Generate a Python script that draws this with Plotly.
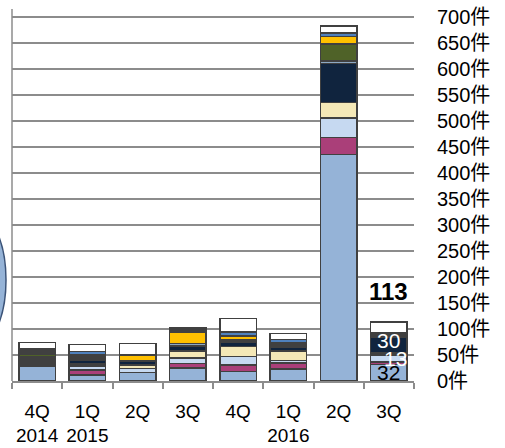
import plotly.graph_objects as go

# Quarter labels (two-line ticks: quarter / year)
quarters = ["4Q", "1Q", "2Q", "3Q", "4Q", "1Q", "2Q", "3Q"]
years = ["2014", "2015", "", "", "", "2016", "", ""]

# Stacked counts per quarter, bottom to top
light_blue = [28, 12, 16, 25, 18, 23, 436, 32]
magenta    = [0, 9, 0, 9, 13, 12, 32, 5]
pale_blue  = [0, 8, 8, 10, 16, 4, 38, 13]
cream      = [0, 0, 7, 14, 19, 19, 30, 4]
dark_gray1 = [14, 5, 0, 0, 0, 0, 0, 0]
navy       = [0, 6, 7, 9, 9, 6, 75, 30]
grey_blue  = [4, 0, 0, 5, 4, 3, 4, 0]
olive      = [6, 0, 0, 0, 0, 0, 33, 0]
yellow     = [0, 0, 12, 22, 8, 0, 15, 0]
dark_gray2 = [10, 11, 1, 8, 0, 7, 0, 9]
blue       = [0, 6, 0, 0, 7, 6, 6, 0]
white      = [12, 13, 21, 0, 26, 11, 14, 20]

y_ticks = list(range(0, 701, 50))
y_labels = [f"{v}件" for v in y_ticks]

series = [
    (light_blue, "#95B3D7"),
    (magenta, "#AA3F79"),
    (pale_blue, "#C6D9F1"),
    (cream, "#F4E8B7"),
    (dark_gray1, "#404040"),
    (navy, "#10243E"),
    (grey_blue, "#8DA9C4"),
    (olive, "#4F6228"),
    (yellow, "#FFC000"),
    (dark_gray2, "#404040"),
    (blue, "#4F81BD"),
    (white, "#FFFFFF"),
]

FONT = "Liberation Sans, Noto Sans CJK JP, sans-serif"
GRID = "#8c8c8c"
x = list(range(len(quarters)))

fig = go.Figure()
for vals, col in series:
    fig.add_trace(go.Bar(
        x=x, y=vals,
        marker=dict(color=col, line=dict(color="#404040", width=1.5)),
        showlegend=False, hoverinfo="skip",
    ))

# value labels on the latest quarter: (series index, colour, x shift, y shift)
last = len(quarters) - 1
label_specs = {0: ("#000000", 0, 0), 2: ("#FFFFFF", 7, 0), 5: ("#FFFFFF", 0, 5)}
cum = 0
for i, (vals, col) in enumerate(series):
    v = vals[last]
    if i in label_specs:
        tc, xs, ys = label_specs[i]
        fig.add_annotation(x=last, y=cum + v / 2, text=str(v), showarrow=False,
                           xshift=xs, yshift=ys,
                           font=dict(family=FONT, size=21, color=tc))
    cum += v
total = cum
fig.add_annotation(x=last, y=172, text=f"<b>{total}</b>", showarrow=False,
                   font=dict(family=FONT, size=24, color="#000000"))

ticktext = [q if not yv else f"{q}<br>{yv}" for q, yv in zip(quarters, years)]

fig.update_layout(
    width=505, height=448,
    margin=dict(l=12, r=91, t=9, b=67),
    paper_bgcolor="white", plot_bgcolor="white",
    barmode="stack", bargap=0.27,
    font=dict(family=FONT, size=18, color="#000000"),
    xaxis=dict(
        range=[-0.5, len(quarters) - 0.5],
        tickvals=x, ticktext=ticktext, ticks="",
        showline=True, linecolor=GRID, linewidth=1.5,
        showgrid=False, zeroline=False, automargin=False,
        ticklabelstandoff=12,
        minor=dict(tickvals=[i - 0.5 for i in range(len(quarters) + 1)],
                   ticks="outside", ticklen=6, tickwidth=1.5, tickcolor=GRID,
                   showgrid=False),
        tickfont=dict(size=19),
    ),
    yaxis=dict(
        side="right", range=[0, 715.4],
        tickvals=y_ticks, ticktext=y_labels, ticks="",
        showgrid=True, gridcolor=GRID, gridwidth=1.5,
        zeroline=False, showline=False, automargin=False,
        ticklabelstandoff=22,
        tickfont=dict(size=20),
    ),
    shapes=[
        dict(type="line", xref="paper", yref="paper", x0=0, x1=0, y0=0, y1=1,
             line=dict(color=GRID, width=1.5)),
        dict(type="circle", xref="paper", yref="paper",
             x0=(-50 - 12) / 402, x1=(6 - 12) / 402,
             y0=(381 - 345) / 372, y1=(381 - 215) / 372,
             fillcolor="#95B3D7", line=dict(color="#3b5378", width=1.5),
             layer="above"),
    ],
)

fig.write_html("out.html")
